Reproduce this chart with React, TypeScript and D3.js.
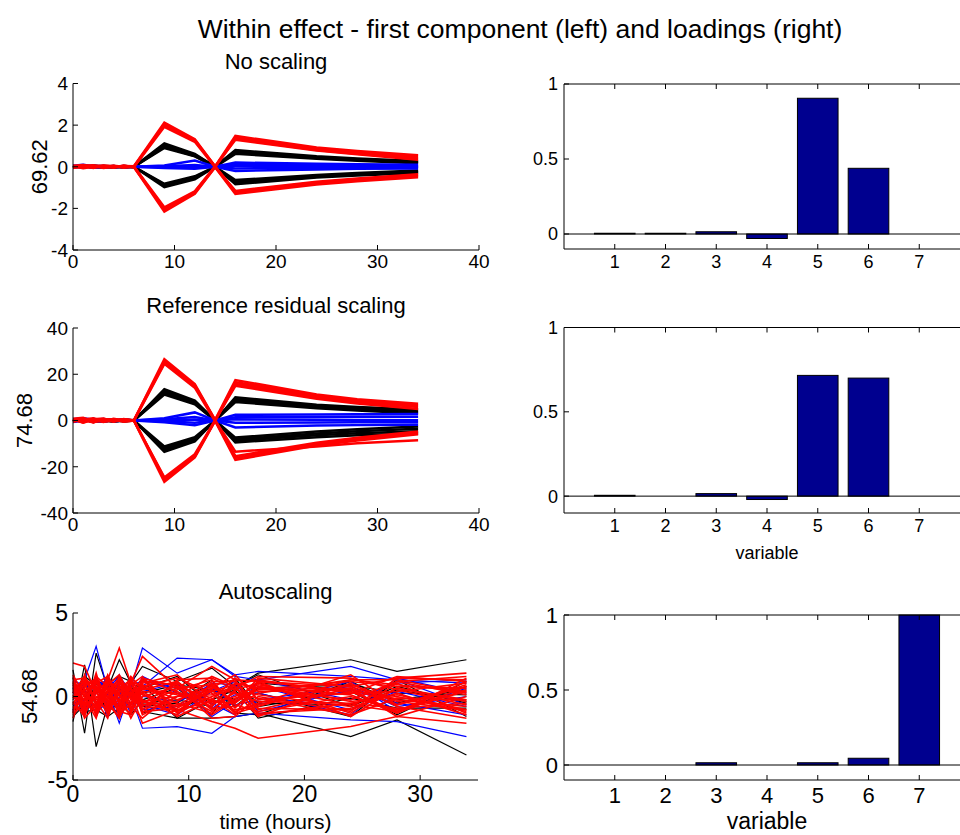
import React from "react";
import * as d3 from "d3";

// sampling times (hours) shared by all score profiles
const times = [0, 1, 2, 3, 4, 5, 6, 9, 12, 14, 16, 24, 28, 34];
const variables = [1, 2, 3, 4, 5, 6, 7];

// --- No scaling: first component profiles ---
const noScalingRed = [
  [0.05, 0.08, 0.02, 0.06, 0.0, 0.04, 0.02, 2.12, 1.32, 0.02, 1.48, 0.92, 0.76, 0.55],
  [-0.04, 0.03, 0.07, -0.02, 0.05, 0.0, 0.0, 2.02, 1.26, 0.0, 1.4, 0.86, 0.7, 0.48],
  [0.02, -0.05, 0.04, 0.03, -0.03, 0.06, -0.02, 1.92, 1.2, -0.02, 1.34, 0.8, 0.62, 0.4],
  [0.0, 0.04, -0.06, 0.05, 0.02, -0.02, 0.01, 1.98, 1.28, 0.01, 1.3, 0.78, 0.6, 0.34],
  [-0.06, 0.02, 0.05, -0.04, 0.03, 0.0, -0.02, -2.15, -1.3, -0.02, -1.3, -0.85, -0.7, -0.5],
  [0.03, -0.07, 0.0, 0.04, -0.05, 0.03, 0.0, -2.05, -1.22, 0.0, -1.24, -0.8, -0.64, -0.44],
  [-0.02, 0.05, -0.04, 0.02, 0.04, -0.05, 0.02, -1.95, -1.18, 0.02, -1.2, -0.76, -0.6, -0.4],
  [0.04, -0.02, 0.03, -0.06, 0.0, 0.02, -0.01, -2.0, -1.26, -0.01, -1.16, -0.72, -0.56, -0.36],
];
const noScalingBlack = [
  [0.02, -0.03, 0.05, 0.0, -0.02, 0.03, 0.0, 1.12, 0.62, 0.0, 0.8, 0.5, 0.4, 0.28],
  [-0.03, 0.02, -0.02, 0.04, 0.03, -0.02, 0.01, 1.04, 0.58, 0.01, 0.74, 0.46, 0.36, 0.24],
  [0.01, 0.04, 0.0, -0.03, 0.02, 0.01, -0.01, 0.96, 0.52, -0.01, 0.68, 0.42, 0.32, 0.2],
  [0.0, -0.01, 0.03, 0.02, -0.04, 0.0, 0.0, 0.9, 0.5, 0.0, 0.62, 0.38, 0.29, 0.17],
  [-0.02, 0.03, -0.04, 0.01, 0.02, -0.03, 0.0, -0.98, -0.6, 0.0, -0.84, -0.52, -0.42, -0.3],
  [0.03, -0.02, 0.02, -0.03, 0.0, 0.02, 0.01, -0.92, -0.56, 0.01, -0.78, -0.48, -0.38, -0.26],
  [-0.01, 0.0, 0.04, 0.02, -0.03, 0.01, -0.01, -0.86, -0.5, -0.01, -0.7, -0.44, -0.34, -0.22],
  [0.02, 0.01, -0.02, -0.01, 0.03, -0.02, 0.0, -0.82, -0.46, 0.0, -0.64, -0.4, -0.3, -0.18],
];
const noScalingBlue = [
  [0.05, 0.1, 0.02, 0.04, 0.0, 0.03, 0.0, 0.06, 0.3, 0.0, 0.2, 0.14, 0.12, 0.1],
  [-0.02, 0.04, -0.05, 0.0, 0.03, -0.02, 0.0, 0.03, 0.08, 0.0, 0.12, 0.08, 0.06, 0.05],
  [0.03, -0.04, 0.06, -0.02, 0.0, 0.02, 0.0, -0.02, -0.04, 0.0, -0.08, -0.05, -0.04, -0.03],
  [0.0, 0.02, -0.03, 0.03, -0.02, 0.0, 0.0, -0.06, -0.1, 0.0, -0.2, -0.13, -0.1, -0.08],
  [-0.04, 0.0, 0.02, -0.03, 0.02, -0.01, 0.0, 0.0, 0.02, 0.0, 0.04, 0.02, 0.0, 0.0],
];

// --- Reference residual scaling ---
const refResidualRed = [
  [0.8, 1.2, -0.5, 0.6, 0.2, 0.5, 0.0, 26.5, 15.8, 0.3, 17.5, 11.2, 9.2, 7.2],
  [-0.6, 0.4, 1.0, -0.3, 0.7, 0.0, 0.2, 25.5, 15.0, 0.0, 16.6, 10.6, 8.6, 6.5],
  [0.3, -0.8, 0.5, 0.9, -0.4, 0.6, -0.2, 24.5, 14.2, -0.3, 15.8, 10.0, 8.0, 5.8],
  [0.0, 0.5, -0.7, 0.2, 0.4, -0.5, 0.0, 25.0, 15.2, 0.2, 15.0, 9.4, 7.4, 5.0],
  [-0.5, 0.7, 0.2, -0.6, 0.3, 0.0, -0.1, -26.5, -16.0, -0.2, -17.0, -10.8, -8.6, -6.0],
  [0.6, -0.9, 0.4, 0.3, -0.5, 0.4, 0.1, -25.5, -15.2, 0.1, -16.2, -10.2, -8.0, -5.4],
  [-0.2, 0.3, -0.8, 0.5, 0.2, -0.3, 0.0, -24.6, -14.6, 0.0, -15.4, -9.6, -7.5, -4.8],
  [0.4, -0.2, 0.6, -0.4, 0.0, 0.2, 0.0, -25.0, -15.6, 0.0, -13.5, -11.2, -9.8, -8.5],
];
const refResidualBlack = [
  [0.3, -0.5, 0.6, 0.0, -0.3, 0.4, 0.0, 13.5, 8.6, 0.0, 10.0, 6.8, 5.8, 4.8],
  [-0.4, 0.2, -0.3, 0.5, 0.3, -0.2, 0.1, 12.8, 8.0, 0.1, 9.3, 6.3, 5.3, 4.2],
  [0.2, 0.6, 0.0, -0.4, 0.2, 0.1, -0.1, 12.0, 7.4, -0.1, 8.6, 5.8, 4.8, 3.6],
  [0.0, -0.1, 0.4, 0.3, -0.5, 0.0, 0.0, 11.2, 7.0, 0.0, 8.0, 5.3, 4.3, 3.0],
  [-0.3, 0.4, -0.6, 0.2, 0.3, -0.4, 0.0, -13.5, -9.0, 0.0, -9.5, -7.2, -6.4, -5.6],
  [0.4, -0.3, 0.3, -0.4, 0.0, 0.3, 0.1, -12.8, -8.4, 0.1, -8.8, -6.4, -5.5, -4.6],
  [-0.1, 0.0, 0.5, 0.3, -0.4, 0.1, -0.1, -12.0, -7.8, -0.1, -8.1, -5.6, -4.6, -3.6],
  [0.2, 0.1, -0.3, -0.2, 0.4, -0.2, 0.0, -11.2, -7.2, 0.0, -7.4, -4.8, -3.8, -2.6],
];
const refResidualBlue = [
  [0.5, 1.0, 0.3, 0.6, 0.0, 0.4, 0.0, 1.0, 3.5, 0.0, 2.5, 2.6, 2.7, 2.8],
  [-0.3, 0.5, -0.6, 0.0, 0.4, -0.2, 0.0, 0.5, 1.5, 0.0, 1.4, 1.5, 1.6, 1.6],
  [0.4, -0.6, 0.7, -0.2, 0.0, 0.3, 0.0, -0.3, -1.0, 0.0, -1.0, -0.9, -0.8, -0.8],
  [0.0, 0.2, -0.4, 0.4, -0.3, 0.0, 0.0, -0.8, -2.0, 0.0, -3.0, -2.2, -2.0, -1.8],
  [-0.6, 0.0, 0.2, -0.5, 0.3, -0.1, 0.0, 0.0, 0.4, 0.0, 0.5, 0.3, 0.2, 0.1],
];

// --- Autoscaling ---
const autoscalingBlack = [
  [1.6, -2.2, 2.6, 0.5, 2.2, 0.8, 1.8, 0.9, 1.7, 0.6, 1.4, 2.2, 1.5, 2.2],
  [-1.5, 1.9, -3.0, -0.5, -1.0, 0.2, -0.9, -1.3, -1.3, -1.2, -1.0, -2.4, -1.4, -3.5],
  [0.5, -1.0, 0.9, -0.3, 0.4, -0.8, 0.5, 1.2, -0.5, 0.6, 1.3, -0.6, 0.6, -0.4],
  [-0.8, 0.7, -0.5, 1.1, -1.0, 0.6, -0.6, -0.4, 1.0, -1.0, -1.1, 0.9, -0.4, 0.6],
  [1.1, 0.3, -1.1, 0.2, 0.8, 0.2, 1.1, -0.9, 0.3, 0.2, 0.2, -1.2, 1.0, -1.2],
  [-1.2, -0.5, 0.3, -0.9, -0.4, -1.1, -0.2, 0.5, -1.1, 1.1, -0.6, 0.3, -1.1, 0.9],
  [0.2, 1.2, 0.7, 0.8, 1.2, 0.9, -1.0, 0.0, 0.6, -0.6, 0.5, 0.7, 0.2, 0.1],
  [-0.4, -0.9, -0.8, -1.2, -0.7, 0.4, 0.7, -1.3, -0.2, 0.4, -1.3, -0.1, -0.7, -0.7],
  [0.8, 0.0, 0.2, 0.6, -0.2, -0.4, 0.2, 0.7, 0.4, -0.2, 0.8, 0.4, -0.2, 0.4],
  [-0.6, 0.4, -0.3, -0.5, 0.5, 0.0, -0.4, -0.2, -0.6, 0.8, -0.4, -0.5, 0.4, -0.3],
];
const autoscalingBlue = [
  [-0.8, 1.0, 3.0, 0.4, -1.6, 0.5, 2.9, 1.4, 2.2, 1.2, 1.0, 1.8, 1.0, -0.5],
  [0.5, -0.8, 0.4, -1.2, 1.3, 0.0, -1.9, -1.8, -2.2, -1.2, -1.0, -1.4, -1.5, -2.4],
  [0.2, 0.6, 1.0, 0.5, 1.2, 0.3, 0.6, 2.3, 2.2, 1.3, 1.5, 1.2, 1.0, 0.8],
  [0.7, -0.3, 1.2, -0.7, 0.9, -0.5, 0.3, 0.8, -1.2, -0.3, 0.6, -0.8, 0.3, -0.6],
  [-0.9, 0.9, -0.4, 0.6, -0.6, 1.0, -0.8, -0.6, 0.8, 0.7, -0.5, 0.9, -0.9, 0.5],
  [0.3, -1.1, 0.2, 1.2, 0.3, -1.0, 1.2, 0.2, -0.4, -1.1, 1.0, -0.2, 0.8, 1.0],
  [-0.2, 0.4, -1.0, -0.3, -1.2, 0.3, -0.5, -1.1, 0.3, 0.9, -0.9, 0.4, -0.4, -1.1],
  [1.0, 0.6, 0.6, 0.1, -0.1, 0.7, 0.9, 0.5, -0.7, 0.1, 0.2, -1.1, 1.1, 0.2],
  [-0.5, -0.2, 0.8, 0.9, 0.5, -0.8, 0.0, -0.3, 0.5, -0.5, -0.2, 0.6, -0.6, 0.0],
];
const autoscalingRed = [
  [2.0, 1.8, 0.2, 1.0, 2.9, 0.8, 2.4, 0.5, 1.8, 1.0, 0.9, 0.6, 1.1, 1.4],
  [0.0, -0.5, 1.0, -0.4, -1.3, 0.2, -1.6, -0.8, -1.5, -1.9, -2.5, -1.8, -1.2, -1.6],
  [1.2, -0.8, 1.4, -1.0, 0.6, -0.4, 1.0, 0.3, -0.6, 0.8, 0.5, -0.2, 0.9, 1.2],
  [-1.0, 1.3, -0.6, 0.9, -1.2, 0.8, -0.3, -0.9, 0.7, -0.4, 1.1, 0.6, -0.3, -0.8],
  [0.4, 0.9, -1.2, 0.3, 1.1, -0.9, 0.6, 1.1, 0.2, -1.0, -0.6, 1.0, 0.7, 0.3],
  [-0.3, -1.2, 0.8, 1.2, -0.5, 1.0, -1.1, 0.0, 1.2, 0.6, -1.0, -0.7, 0.2, -1.1],
  [0.9, 0.2, -0.3, -1.3, 0.8, 0.4, 0.2, -1.2, -0.2, 1.1, 0.3, 0.4, -1.0, 0.6],
  [-1.3, 0.6, 1.1, 0.0, -0.9, -1.1, 0.9, 0.7, -1.1, -0.2, 0.9, -1.2, 0.5, -0.2],
  [0.1, -0.4, -0.9, 0.7, 1.3, 0.0, -0.7, -0.5, 0.5, 1.3, -0.2, 0.2, 1.2, 0.9],
  [1.0, 1.1, 0.5, -0.6, -0.2, 1.2, 0.4, 0.9, -0.8, 0.3, -1.2, 0.8, -0.6, -1.3],
  [-0.7, -0.1, -1.3, 1.0, 0.4, -0.6, -1.3, 0.4, 1.0, -0.7, 0.6, -0.5, -0.9, 0.4],
  [0.6, -1.0, 0.2, -0.2, -1.3, 0.7, 1.2, -1.0, 0.0, 0.5, 1.2, 1.1, 0.4, -0.5],
  [-0.5, 0.8, 0.9, -0.9, 0.2, -1.3, 0.0, 0.6, -1.3, -1.2, 0.0, -0.9, 1.1, 1.0],
  [0.3, -0.6, -0.1, 0.5, -0.7, 0.9, -0.5, -0.3, 0.9, 0.9, -0.8, 0.5, -1.2, 0.0],
  [-0.9, 0.4, 0.6, -0.4, 1.0, -0.2, 0.8, 1.3, -0.4, 0.0, 0.7, -0.3, 0.0, -0.9],
  [0.8, -1.3, -0.5, 1.3, -0.3, 0.5, -0.9, -0.7, 0.4, -0.9, -0.4, 1.3, -0.5, 0.7],
  [-0.1, 1.0, 0.3, -1.1, 0.7, -0.8, 0.3, 0.2, -0.9, 0.4, 0.8, -1.0, 0.8, -1.0],
  [1.3, 0.0, -1.0, 0.4, -1.0, 1.1, -0.2, -1.1, 0.8, -0.5, -0.9, 0.0, -0.8, 0.3],
  [0.6, 0.3, -0.7, 0.9, 0.1, -0.5, 0.7, -0.2, 0.6, -0.3, 0.4, 0.9, 0.6, 0.5],
  [-0.6, -0.9, 0.4, -0.2, 0.9, 0.3, -0.4, 0.8, -0.5, 0.2, -0.3, -0.4, -0.7, -0.4],
  [0.2, 1.2, -0.4, -0.7, 0.5, 1.0, 0.1, -0.6, 0.3, 0.7, 1.0, 0.2, 0.3, 0.8],
  [-1.1, -0.3, 1.2, 0.6, -1.1, -0.4, 0.5, 0.1, -0.2, -0.8, -0.5, 0.7, -0.2, -0.6],
  [0.9, -0.6, 0.0, -0.5, 0.3, 0.6, -1.0, 1.0, 1.1, 0.4, 0.1, -0.6, 0.9, 0.1],
  [-0.4, 0.5, -0.8, 0.8, -0.4, -0.7, 1.0, -0.8, -0.3, -0.4, 0.6, 0.1, -1.0, 1.1],
  [0.4, -0.2, 0.9, -0.8, 0.6, 0.2, -0.6, 0.5, 0.7, 1.0, -0.7, -0.8, 0.5, -0.3],
  [-0.2, 0.7, -0.2, 0.2, -0.8, 0.9, 0.6, -0.4, -1.0, -0.1, 0.4, 0.5, -0.5, 0.6],
  [1.1, -1.1, 0.6, -0.1, 1.2, -0.1, -0.3, 0.0, 0.1, 0.6, -1.1, -0.4, 0.1, -0.8],
  [-0.8, 0.1, -0.6, 1.1, 0.0, 0.5, -0.8, 0.9, -0.7, -0.6, 0.2, 1.0, 1.0, 0.2],
  [0.0, 0.9, 0.4, -0.3, -0.5, -1.0, 0.3, -0.9, 0.5, 0.2, -0.1, -1.1, -0.1, -0.2],
  [0.7, -0.4, -0.9, 0.4, 0.8, 0.1, 1.1, 0.6, -0.1, -1.1, 0.9, 0.3, -0.9, 0.9],
];

// loadings (right column)
const noScalingLoadings = [0.005, 0.005, 0.015, -0.03, 0.905, 0.438, 0];
const refResidualLoadings = [0.005, 0, 0.015, -0.02, 0.716, 0.7, 0];
const autoscalingLoadings = [0, 0, 0.015, 0, 0.015, 0.045, 1.0];

const wideTimeTicks = [0, 10, 20, 30, 40];
const autoTimeTicks = [0, 10, 20, 30];
const noScalingYTicks = [-4, -2, 0, 2, 4];
const refResidualYTicks = [-40, -20, 0, 20, 40];
const autoscalingYTicks = [-5, 0, 5];
const loadingYTicks = [0, 0.5, 1];

const FONT = "Arial, 'Liberation Sans', Helvetica, sans-serif";
const RED = "#ff0000";
const BLUE = "#0000ff";
const BLACK = "#000000";
const BAR = "#00008f";

const LinePanel = ({ box, xMax, yLim, xTicks, yTicks, black, blue, red, lw, redW, fs, title, titleY, ylabel, ylabelX, xlabel }: any) => {
  const x = d3.scaleLinear().domain([0, xMax]).range([box.left, box.right]);
  const y = d3.scaleLinear().domain(yLim).range([box.bottom, box.top]);
  const line = d3
    .line<number>()
    .x((_, i) => x(times[i]))
    .y((d) => y(d));
  const group = (lines: number[][], color: string, w: number) =>
    lines.map((l, i) => <path key={color + i} d={line(l) || ""} fill="none" stroke={color} strokeWidth={w} />);
  return (
    <g fontFamily={FONT}>
      {group(black, BLACK, lw)}
      {group(blue, BLUE, lw)}
      {group(red, RED, redW || lw)}
      <line x1={box.left} x2={box.left} y1={box.top} y2={box.bottom} stroke="#000" />
      <line x1={box.left} x2={box.right} y1={box.bottom} y2={box.bottom} stroke="#000" />
      {xTicks.map((t: number) => (
        <g key={"x" + t}>
          <line x1={x(t)} x2={x(t)} y1={box.bottom} y2={box.bottom - 5} stroke="#000" />
          <text x={x(t)} y={box.bottom + fs * 0.95} textAnchor="middle" fontSize={fs}>{t}</text>
        </g>
      ))}
      {yTicks.map((t: number) => (
        <g key={"y" + t}>
          <line x1={box.left} x2={box.left + 5} y1={y(t)} y2={y(t)} stroke="#000" />
          <text x={box.left - 5} y={y(t)} dy="0.36em" textAnchor="end" fontSize={fs}>{t}</text>
        </g>
      ))}
      <text x={(box.left + box.right) / 2} y={titleY} textAnchor="middle" fontSize={22}>{title}</text>
      <text transform={`translate(${ylabelX},${(box.top + box.bottom) / 2}) rotate(-90)`} textAnchor="middle" dy="0.36em" fontSize={22}>{ylabel}</text>
      {xlabel && (
        <text x={(box.left + box.right) / 2} y={xlabel.y} textAnchor="middle" fontSize={xlabel.fs}>{xlabel.text}</text>
      )}
    </g>
  );
};

const BarPanel = ({ box, values, fs, xlabel }: any) => {
  const x = d3.scaleLinear().domain([0, 8]).range([box.left, box.right]);
  const y = d3.scaleLinear().domain([-0.1, 1]).range([box.bottom, box.top]);
  return (
    <g fontFamily={FONT}>
      {values.map((v: number, i: number) => (
        <rect
          key={i}
          x={x(variables[i] - 0.4)}
          width={x(0.8) - x(0)}
          y={y(Math.max(v, 0))}
          height={Math.abs(y(v) - y(0))}
          fill={BAR}
          stroke="#000"
          strokeWidth={1}
        />
      ))}
      <line x1={box.left} x2={box.right} y1={y(0)} y2={y(0)} stroke="#000" />
      <line x1={box.left} x2={box.right} y1={box.top} y2={box.top} stroke="#000" />
      <line x1={box.left} x2={box.right} y1={box.bottom} y2={box.bottom} stroke="#000" />
      <line x1={box.left} x2={box.left} y1={box.top} y2={box.bottom} stroke="#000" />
      {variables.map((v) => (
        <g key={"x" + v}>
          <line x1={x(v)} x2={x(v)} y1={box.bottom} y2={box.bottom - 5} stroke="#000" />
          <line x1={x(v)} x2={x(v)} y1={box.top} y2={box.top + 5} stroke="#000" />
          <text x={x(v)} y={box.bottom + fs * 1.05} textAnchor="middle" fontSize={fs}>{v}</text>
        </g>
      ))}
      {loadingYTicks.map((t) => (
        <g key={"y" + t}>
          <line x1={box.left} x2={box.left + 5} y1={y(t)} y2={y(t)} stroke="#000" />
          <text x={box.left - 6} y={y(t)} dy="0.36em" textAnchor="end" fontSize={fs}>{t}</text>
        </g>
      ))}
      {xlabel && (
        <text x={x(4)} y={xlabel.y} textAnchor="middle" fontSize={xlabel.fs}>{xlabel.text}</text>
      )}
    </g>
  );
};

export default function App() {
  const leftX = { left: 73, right: 479 };
  const rightX = { left: 564, right: 970 };
  return (
    <svg width={960} height={835} style={{ position: "absolute", left: 0, top: 0, background: "#fff" }}>
      <rect width={960} height={835} fill="#fff" />
      <text x={520} y={38} textAnchor="middle" fontFamily={FONT} fontSize={26.5}>
        Within effect - first component (left) and loadings (right)
      </text>
      <LinePanel
        box={{ ...leftX, top: 83.5, bottom: 250 }}
        xMax={40} yLim={[-4, 4]} xTicks={wideTimeTicks} yTicks={noScalingYTicks}
        black={noScalingBlack} blue={noScalingBlue} red={noScalingRed} lw={2.5} fs={19}
        title="No scaling" titleY={69} ylabel="69.62" ylabelX={39}
      />
      <LinePanel
        box={{ ...leftX, top: 328, bottom: 513 }}
        xMax={40} yLim={[-40, 40]} xTicks={wideTimeTicks} yTicks={refResidualYTicks}
        black={refResidualBlack} blue={refResidualBlue} red={refResidualRed} lw={2.5} fs={19}
        title="Reference residual scaling" titleY={313} ylabel="74.68" ylabelX={24}
      />
      <LinePanel
        box={{ left: 73, right: 478, top: 613, bottom: 780 }}
        xMax={35} yLim={[-5, 5]} xTicks={autoTimeTicks} yTicks={autoscalingYTicks}
        black={autoscalingBlack} blue={autoscalingBlue} red={autoscalingRed} lw={1.2} redW={1.6} fs={23}
        title="Autoscaling" titleY={599} ylabel="54.68" ylabelX={29}
        xlabel={{ text: "time (hours)", y: 829, fs: 21 }}
      />
      <BarPanel box={{ ...rightX, top: 84, bottom: 249 }} values={noScalingLoadings} fs={18} />
      <BarPanel
        box={{ ...rightX, top: 327.5, bottom: 513 }} values={refResidualLoadings} fs={18}
        xlabel={{ text: "variable", y: 559, fs: 18 }}
      />
      <BarPanel
        box={{ ...rightX, top: 615, bottom: 780 }} values={autoscalingLoadings} fs={22}
        xlabel={{ text: "variable", y: 829, fs: 23 }}
      />
    </svg>
  );
}
